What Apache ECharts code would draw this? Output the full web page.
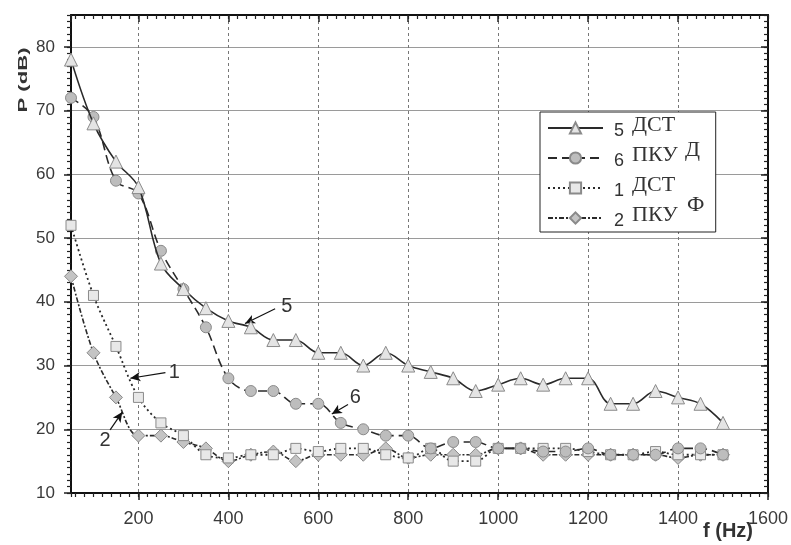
<!DOCTYPE html>
<html>
<head>
<meta charset="utf-8">
<script src="https://cdn.jsdelivr.net/npm/echarts@6/dist/echarts.min.js"></script>
<style>html,body{margin:0;padding:0;background:#fff}#c{width:791px;height:545px}</style>
</head>
<body>
<div id="c"></div>
<script>
// ---- data ----
const freq = [50,100,150,200,250,300,350,400,450,500,550,600,650,700,750,800,850,900,950,1000,1050,1100,1150,1200,1250,1300,1350,1400,1450,1500];
const s5 = [78,68,62,58,46,42,39,37,36,34,34,32,32,30,32,30,29,28,26,27,28,27,28,28,24,24,26,25,24,21];
const s6 = [72,69,59,57,48,42,36,28,26,26,24,24,21,20,19,19,17,18,18,17,17,16.5,16.5,17,16,16,16,17,17,16];
const s1 = [52,41,33,25,21,19,16,15.5,16,16,17,16.5,17,17,16,15.5,17,15,15,17,17,17,17,16.5,16,16,16.5,16,16,16];
const s2 = [44,32,25,19,19,18,17,15,16,16.5,15,16,16,16,17,15.5,16,16,16,17,17,16,16,16,16,16,16,15.5,16,16];
const seriesNames = ['5 ДСТ','6 ПКУ','1 ДСТ','2 ПКУ'];
const xTickLabels = [200,400,600,800,1000,1200,1400,1600];
const yTickLabels = [10,20,30,40,50,60,70,80];
// annotation arrows (label, label point, arrow start, arrow end) in data units
const annLabels = ['5','6','1','2'];
const annText  = [[530,39.3],[682,25.0],[280,28.9],[126,18.3]];
const annFrom  = [[504,38.9],[666,23.9],[260,28.9],[137,19.9]];
const annTo    = [[437,36.6],[630,22.4],[182,28.0],[164,22.7]];

const zip = a => freq.map((f,i)=>[f,a[i]]);
const SANS = 'Liberation Sans, Arial, sans-serif';
const SERIF = 'Liberation Serif, Times New Roman, serif';

const chart = echarts.init(document.getElementById('c'), null, {renderer:'canvas'});

const X_RANGE = {type:'value', min:50, max:1600};
const Y_RANGE = {type:'value', min:10, max:85};
const FRAME = {show:true, onZero:false, lineStyle:{color:'#111', width:2}};
const majorTick = inside => ({show:true, inside:inside, length:7, lineStyle:{color:'#222', width:1.5}});
const minorTick = inside => ({show:true, inside:inside, length:4, lineStyle:{color:'#222', width:1.2}});
const hidden = {axisLine:{show:false}, axisLabel:{show:false}, splitLine:{show:false}};

const markerStyles = [
  {symbol:'triangle', size:13, fill:'#e4e4e4', border:'#8a8a8a', line:'solid', width:1.6},
  {symbol:'circle', size:11, fill:'#bdbdbd', border:'#8a8a8a', line:[9,5], width:1.6},
  {symbol:'rect', size:10, fill:'#e8e8e8', border:'#8a8a8a', line:[2,3], width:1.8},
  {symbol:'diamond', size:13, fill:'#c4c4c4', border:'#8a8a8a', line:[5,2,2,2], width:1.6}
];
const datas = [s5, s6, s1, s2];

const series = datas.map((d,i)=>{
  const m = markerStyles[i];
  return {
    name: seriesNames[i], type:'line', data: zip(d), smooth:0.35,
    symbol:m.symbol, symbolSize:m.size,
    lineStyle:{color:'#2a2a2a', width:m.width, type:m.line},
    itemStyle:{color:m.fill, borderColor:m.border, borderWidth:1},
    z: 5 - i
  };
});

series.push({
  type:'line', data:[], silent:true,
  markLine:{
    silent:true, symbol:['none','arrow'], symbolSize:[7,10],
    lineStyle:{color:'#111', width:1.2, type:'solid'},
    label:{show:false},
    data: annFrom.map((p,i)=>[{coord:p},{coord:annTo[i]}])
  },
  markPoint:{
    silent:true, symbol:'circle', symbolSize:0,
    label:{show:true, position:'inside', color:'#333', fontSize:20, fontFamily:SANS,
      formatter: p => p.name},
    data: annText.map((p,i)=>({name:annLabels[i], coord:p}))
  }
});

const option = {
  backgroundColor:'#fff',
  animation:false,
  grid:{left:71, right:22, top:15, bottom:52, containLabel:false},
  xAxis:[
    Object.assign({}, X_RANGE, {
      position:'bottom', splitNumber:7, axisLine:FRAME, axisTick:majorTick(false),
      axisLabel:{show:true, showMinLabel:false, margin:17, color:'#3a3a3a', fontSize:18, fontFamily:SANS,
        formatter: v => xTickLabels.includes(v) ? String(v) : ''},
      splitLine:{show:true, lineStyle:{color:'#777', width:1, type:[3,3]}}
    }),
    Object.assign({}, X_RANGE, {
      position:'top', splitNumber:7, axisLine:FRAME, axisTick:majorTick(true),
      axisLabel:{show:false}, splitLine:{show:false}
    }),
    Object.assign({}, X_RANGE, hidden, {position:'bottom', splitNumber:78, axisTick:minorTick(false)}),
    Object.assign({}, X_RANGE, hidden, {position:'top', splitNumber:78, axisTick:minorTick(true)})
  ],
  yAxis:[
    Object.assign({}, Y_RANGE, {
      position:'left', interval:10, axisLine:FRAME, axisTick:majorTick(false),
      axisLabel:{show:true, showMaxLabel:false, margin:16, color:'#3a3a3a', fontSize:17, fontFamily:SANS,
        formatter: v => yTickLabels.includes(v) ? String(v) : ''},
      splitLine:{show:true, lineStyle:{color:'#9a9a9a', width:1.2}}
    }),
    Object.assign({}, Y_RANGE, {
      position:'right', interval:10, axisLine:FRAME, axisTick:majorTick(true),
      axisLabel:{show:false}, splitLine:{show:false}
    }),
    Object.assign({}, Y_RANGE, hidden, {position:'left', interval:1, axisTick:minorTick(false)}),
    Object.assign({}, Y_RANGE, hidden, {position:'right', interval:1, axisTick:minorTick(true)})
  ],
  legend:{
    show:true, orient:'vertical', left:540, top:112,
    data: seriesNames,
    backgroundColor:'#fff', borderColor:'#222', borderWidth:1,
    padding:[2,38,0,7], itemGap:2, itemWidth:55, itemHeight:14,
    formatter: name => { const p = name.split(' '); return '{n|'+p[0]+'}{t|'+p[1]+'}'; },
    textStyle:{
      color:'#222',
      rich:{
        n:{fontSize:18, lineHeight:14, fontFamily:SANS, color:'#333', padding:[6,0,0,6]},
        t:{fontSize:22, lineHeight:16, fontFamily:SERIF, color:'#333', padding:[0,0,6,8]}
      }
    }
  },
  graphic:[
    {type:'text', left:685, top:139, style:{text:'Д', font:'22px '+SERIF, fill:'#333'}, z:100},
    {type:'text', left:687, top:194, style:{text:'Ф', font:'22px '+SERIF, fill:'#333'}, z:100},
    {type:'text', x:23, y:80, rotation:Math.PI/2, scaleX:1.7, style:{text:'P (dB)', font:'bold 13px '+SANS, fill:'#333', align:'center', verticalAlign:'middle'}},
    {type:'text', x:728, y:531, style:{text:'f (Hz)', font:'bold 20px '+SANS, fill:'#333', align:'center', verticalAlign:'middle'}}
  ],
  series: series
};
chart.setOption(option);
</script>
</body>
</html>
